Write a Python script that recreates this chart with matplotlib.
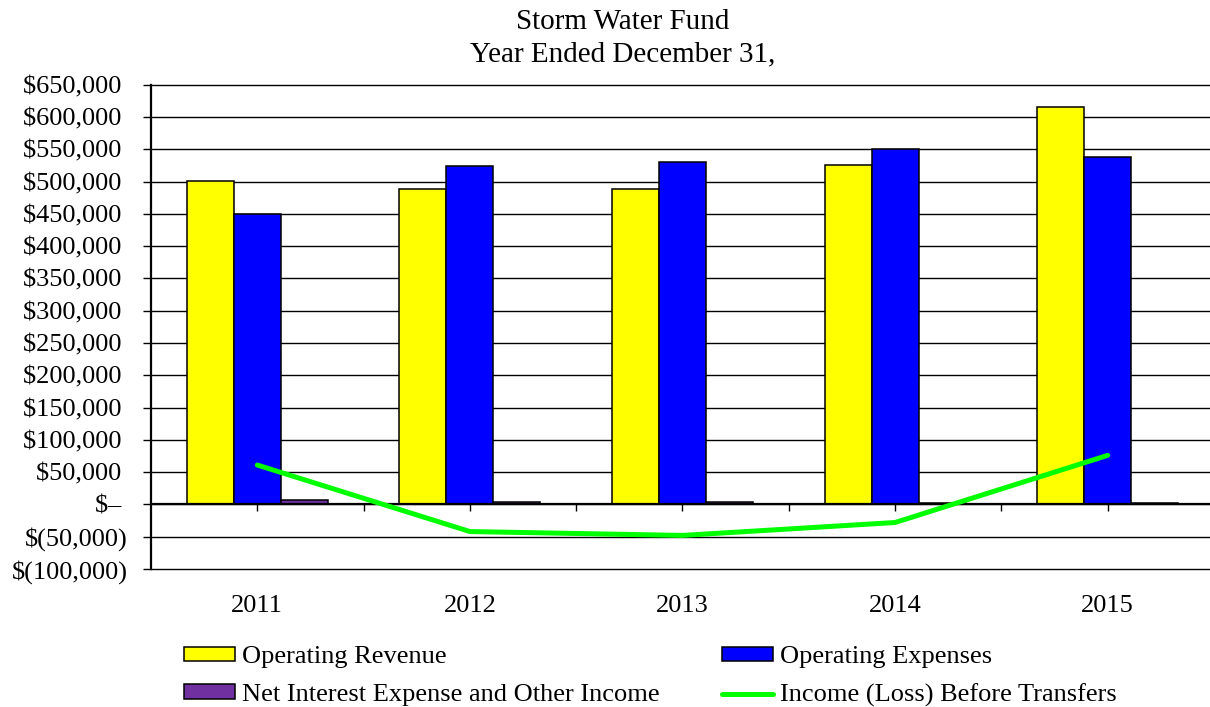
import matplotlib
matplotlib.use("Agg")
import matplotlib.pyplot as plt
import numpy as np
from matplotlib.ticker import FuncFormatter, FixedLocator

plt.rcParams['font.family'] = ['Liberation Serif', 'DejaVu Serif']

years = ['2011', '2012', '2013', '2014', '2015']
operating_revenue = [501000, 489000, 489000, 526000, 615000]
operating_expenses = [449000, 524000, 531000, 550000, 538000]
net_interest_other = [7000, 4000, 4500, 2500, 2000]
income_before_transfers = [61000, -42000, -48000, -28000, 76000]

W, H = 1210, 707
fig = plt.figure(figsize=(W / 100, H / 100), dpi=100, facecolor='white')
ax = fig.add_axes([151 / W, 1 - 569 / H, (1214 - 151) / W, (569 - 84.7) / H])

x = np.arange(len(years))
bw = 0.221
b1 = ax.bar(x - bw, operating_revenue, bw, color='#FFFF00', edgecolor='black', linewidth=1.1, zorder=3)
b2 = ax.bar(x, operating_expenses, bw, color='#0000FF', edgecolor='black', linewidth=1.1, zorder=3)
b3 = ax.bar(x + bw, net_interest_other, bw, color='#7030A0', edgecolor='black', linewidth=1.1, zorder=3)
ln, = ax.plot(x, income_before_transfers, color='#00FF00', linewidth=3.6, zorder=5,
              solid_capstyle='round')

ax.set_xlim(-0.5, len(years) - 0.5)
ax.set_ylim(-100000, 650000)
ax.set_yticks(np.arange(-100000, 650001, 50000))


def fmt(v, pos=None):
    v = int(round(v))
    if v == 0:
        return '$\u2013 '
    if v < 0:
        return '$({:,})'.format(-v)
    return '${:,} '.format(v)


ax.yaxis.set_major_formatter(FuncFormatter(fmt))
ax.tick_params(axis='y', direction='out', length=5.8, width=1.0, pad=10.8, labelsize=19, color='black')
ax.yaxis.grid(True, color='black', linewidth=1.0)
ax.set_axisbelow(True)
for gl in ax.get_ygridlines():
    gl.set_clip_on(False)

for s in ['top', 'right']:
    ax.spines[s].set_visible(False)
ax.spines['left'].set_linewidth(1.6)
ax.spines['bottom'].set_position(('data', 0))
ax.spines['bottom'].set_linewidth(1.6)
ax.spines['bottom'].set_zorder(4)

ax.set_xticks(x)
ax.set_xticklabels([''] * len(years))
ax.xaxis.set_minor_locator(FixedLocator(x[:-1] + 0.5))
ax.tick_params(axis='x', which='both', direction='out', length=5, width=1.0, color='black')

sec = ax.secondary_xaxis('bottom')
sec.set_xticks(x)
sec.set_xticklabels(years)
sec.tick_params(length=0, pad=19, labelsize=19)
sec.spines['bottom'].set_visible(False)

fig.text(623 / W, 1 - 29 / H, 'Storm Water Fund', ha='center', va='baseline', fontsize=21)
fig.text(623 / W, 1 - 61.7 / H, 'Year Ended December 31,', ha='center', va='baseline', fontsize=21)

handles = [b1, b3, b2, ln]
labels = ['Operating Revenue', 'Net Interest Expense and Other Income',
          'Operating Expenses', 'Income (Loss) Before Transfers']
fig.legend(handles, labels, ncol=2, loc='upper left', bbox_to_anchor=(184 / W, 1 - 646 / H),
           frameon=False, fontsize=19, borderpad=0, borderaxespad=0,
           handlelength=1.93, handleheight=0.45, handletextpad=0.27,
           columnspacing=2.35, labelspacing=0.6)

fig.savefig('out.png', dpi=100, facecolor='white')
